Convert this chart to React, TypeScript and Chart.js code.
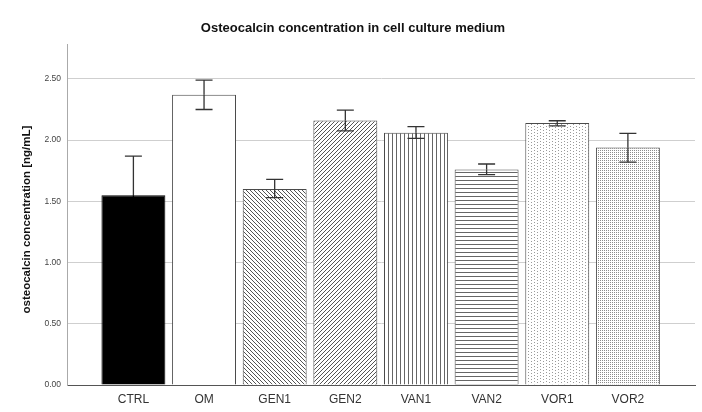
import React, { useEffect, useRef } from "react";
import { Chart, registerables } from "chart.js";

Chart.register(...registerables);

const categories = ["CTRL", "OM", "GEN1", "GEN2", "VAN1", "VAN2", "VOR1", "VOR2"];
const means = [1.55, 2.37, 1.6, 2.16, 2.06, 1.76, 2.14, 1.94];
const errHigh = [1.87, 2.49, 1.68, 2.245, 2.11, 1.805, 2.158, 2.055];
const errLow = [1.23, 2.25, 1.53, 2.076, 2.014, 1.718, 2.117, 1.82];
const yTicks = [0, 0.5, 1, 1.5, 2, 2.5];

const FONT = "Arial, 'Liberation Sans', sans-serif";

function makePattern(kind: string): CanvasPattern | string {
  if (kind === "solid-black") return "#000000";
  if (kind === "white") return "#ffffff";
  const c = document.createElement("canvas");
  const ctx = c.getContext("2d")!;
  let size = 4;
  if (kind === "dots-sparse") size = 6;
  if (kind === "dots-dense") size = 2;
  c.width = size;
  c.height = size;
  ctx.fillStyle = "#ffffff";
  ctx.fillRect(0, 0, size, size);
  ctx.strokeStyle = "#555555";
  ctx.fillStyle = "#555555";
  ctx.lineWidth = 1;
  if (kind === "back") {
    ctx.beginPath();
    ctx.moveTo(-1, -1);
    ctx.lineTo(size + 1, size + 1);
    ctx.moveTo(-1, size - 1);
    ctx.lineTo(1, size + 1);
    ctx.moveTo(size - 1, -1);
    ctx.lineTo(size + 1, 1);
    ctx.stroke();
  } else if (kind === "fwd") {
    ctx.beginPath();
    ctx.moveTo(-1, size + 1);
    ctx.lineTo(size + 1, -1);
    ctx.moveTo(-1, 1);
    ctx.lineTo(1, -1);
    ctx.moveTo(size - 1, size + 1);
    ctx.lineTo(size + 1, size - 1);
    ctx.stroke();
  } else if (kind === "vert") {
    ctx.fillStyle = "#666666";
    ctx.fillRect(0, 0, 1, size);
  } else if (kind === "horiz") {
    ctx.fillStyle = "#666666";
    ctx.fillRect(0, 0, size, 1);
  } else if (kind === "dots-sparse") {
    ctx.fillStyle = "#9a9a9a";
    ctx.fillRect(0, 0, 1, 1);
    ctx.fillRect(0, 3, 1, 1);
    ctx.fillRect(3, 1, 1, 1);
    ctx.fillRect(3, 4, 1, 1);
  } else if (kind === "dots-dense") {
    ctx.fillStyle = "#8c8c8c";
    ctx.fillRect(0, 0, 1, 1);
  }
  return ctx.createPattern(c, "repeat")!;
}

const patternKinds = ["solid-black", "white", "back", "fwd", "vert", "horiz", "dots-sparse", "dots-dense"];

const errorBarPlugin = {
  id: "errorBars",
  afterDatasetsDraw(chart: any) {
    const ctx = chart.ctx;
    const xs = chart.scales.x;
    const ys = chart.scales.y;
    ctx.save();
    ctx.lineWidth = 1.3;
    for (let i = 0; i < categories.length; i++) {
      const x = xs.getPixelForValue(i);
      const yh = ys.getPixelForValue(errHigh[i]);
      const ym = ys.getPixelForValue(means[i]);
      const yl = ys.getPixelForValue(errLow[i]);
      const cap = 8.5;
      const onBlack = patternKinds[i] === "solid-black";
      ctx.strokeStyle = "#333333";
      ctx.beginPath();
      ctx.moveTo(x, yh);
      ctx.lineTo(x, ym);
      ctx.moveTo(x - cap, yh);
      ctx.lineTo(x + cap, yh);
      ctx.stroke();
      ctx.strokeStyle = onBlack ? "#000000" : "#333333";
      ctx.beginPath();
      ctx.moveTo(x, ym);
      ctx.lineTo(x, yl);
      ctx.moveTo(x - cap, yl);
      ctx.lineTo(x + cap, yl);
      ctx.stroke();
    }
    ctx.restore();
  },
};

export default function App() {
  const ref = useRef<HTMLCanvasElement | null>(null);
  useEffect(() => {
    document.body.style.margin = "0";
    const canvas = ref.current!;
    const fills = patternKinds.map((k) => makePattern(k));
    const chart = new Chart(canvas, {
      type: "bar",
      data: {
        datasets: [
          {
            data: means.map((v, i) => ({ x: i, y: v })),
            backgroundColor: fills as any,
            borderColor: categories.map((_, i) => (i === 0 ? "#000000" : "#4a4a4a")),
            borderWidth: 1,
            barPercentage: 0.905,
            categoryPercentage: 1,
          },
        ],
      },
      options: {
        responsive: false,
        animation: false,
        layout: { padding: { left: 0, right: 7, top: 0, bottom: 0 } },
        plugins: {
          legend: { display: false },
          tooltip: { enabled: false },
          title: {
            display: true,
            text: "\u00a0\u00a0\u00a0Osteocalcin concentration in cell culture medium",
            color: "#111111",
            font: { family: FONT, size: 13, weight: "bold" },
            padding: { top: 21, bottom: 8 },
          },
        },
        scales: {
          x: {
            type: "linear",
            offset: false,
            min: -0.94,
            max: 7.95,
            afterBuildTicks: (s: any) => {
              s.ticks = categories.map((_, i) => ({ value: i }));
            },
            afterFit: (s: any) => {
              s.height = 27;
            },
            ticks: {
              callback: (v: any) => categories[Math.round(v)] ?? "",
              color: "#333333",
              font: { family: FONT, size: 12 },
              padding: 7,
              maxRotation: 0,
              autoSkip: false,
            },
            grid: { display: false, drawTicks: false },
            border: { display: true, color: "#555555", width: 1 },
          },
          y: {
            min: 0,
            max: 2.78,
            afterBuildTicks: (s: any) => {
              s.ticks = yTicks.map((v) => ({ value: v }));
            },
            afterFit: (s: any) => {
              s.width = 67;
            },
            ticks: {
              callback: (v: any) => Number(v).toFixed(2),
              color: "#444444",
              font: { family: FONT, size: 8.5 },
              padding: 6,
            },
            grid: {
              drawTicks: false,
              color: (c: any) => (c.tick && c.tick.value === 0 ? "rgba(0,0,0,0)" : "#cfcfcf"),
              lineWidth: 1,
            },
            border: { display: true, color: "#aaaaaa", width: 1 },
            title: {
              display: true,
              text: "osteocalcin concentration [ng/mL]\u00a0\u00a0\u00a0",
              color: "#111111",
              font: { family: FONT, size: 11.5, weight: "bold" },
              padding: { top: 20, bottom: 0 },
            },
          },
        },
      },
      plugins: [errorBarPlugin],
    });
    return () => chart.destroy();
  }, []);
  return (
    <div style={{ width: 702, height: 412, background: "#ffffff" }}>
      <canvas ref={ref} width={702} height={412} style={{ display: "block" }} />
    </div>
  );
}
